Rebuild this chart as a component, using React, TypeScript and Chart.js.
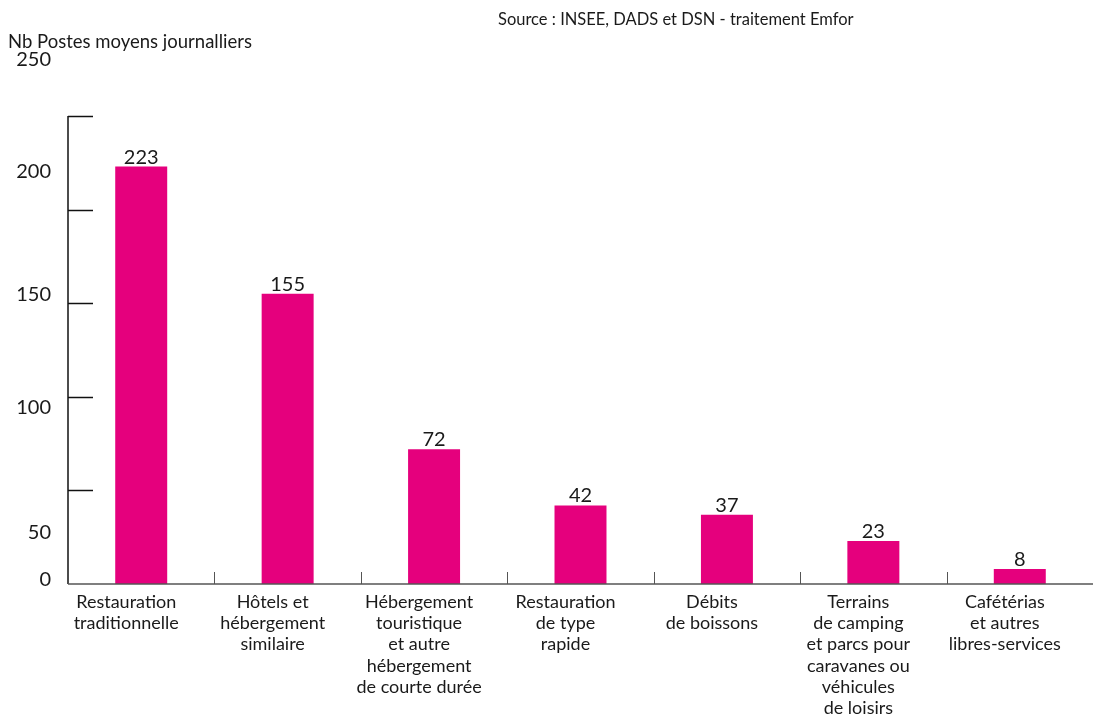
import React, { useEffect, useRef } from "react";
import { Chart, registerables } from "chart.js";
Chart.register(...registerables);

const categories: string[][] = [
  ["Restauration", "traditionnelle"],
  ["Hôtels et", "hébergement", "similaire"],
  ["Hébergement", "touristique", "et autre", "hébergement", "de courte durée"],
  ["Restauration", "de type", "rapide"],
  ["Débits", "de boissons"],
  ["Terrains", "de camping", "et parcs pour", "caravanes ou", "véhicules", "de loisirs"],
  ["Cafétérias", "et autres", "libres-services"],
];
const values = [223, 155, 72, 42, 37, 23, 8];
const yTickValues = [0, 50, 100, 150, 200, 250];
const yTickLabels = ["0", "50", "100", "150", "200", "250"];
// vertical shift of each y tick label, as placed in the reference
const yLabelShift = [-4, 42, 11, -9, -38, -56];

const yTitle = "Nb Postes moyens journalliers";
const sourceText = "Source : INSEE, DADS et DSN - traitement Emfor";

const FONT = "Lato, 'Noto Sans', sans-serif";
const BAR = "#E5007D";
const TXT = "#1a1a1a";

const drawPlugin = {
  id: "customDraw",
  afterDraw(chart: any) {
    const ctx = chart.ctx;
    const { left, right, top, bottom } = chart.chartArea;
    const y = chart.scales.y;
    const x = chart.scales.x;
    ctx.save();
    // y axis line
    ctx.strokeStyle = "#111";
    ctx.lineWidth = 1.5;
    ctx.beginPath();
    ctx.moveTo(left, top);
    ctx.lineTo(left, bottom);
    ctx.stroke();
    // y ticks (inward)
    yTickValues.forEach((v) => {
      if (v === 0) return;
      const py = Math.round(y.getPixelForValue(v)) + 0.5;
      ctx.beginPath();
      ctx.moveTo(left, py);
      ctx.lineTo(left + 25, py);
      ctx.stroke();
    });
    // x axis line
    ctx.strokeStyle = "#555";
    ctx.beginPath();
    ctx.moveTo(left, bottom);
    ctx.lineTo(right, bottom);
    ctx.stroke();
    // category boundary ticks
    ctx.lineWidth = 1;
    for (let i = 1; i < categories.length; i++) {
      const px = Math.round((x.getPixelForValue(i - 1) + x.getPixelForValue(i)) / 2) + 0.5;
      ctx.beginPath();
      ctx.moveTo(px, bottom);
      ctx.lineTo(px, bottom - 12);
      ctx.stroke();
    }
    // y tick labels
    ctx.fillStyle = TXT;
    ctx.font = `20px ${FONT}`;
    ctx.textAlign = "right";
    ctx.textBaseline = "middle";
    yTickValues.forEach((v, i) => {
      ctx.fillText(yTickLabels[i], 51, y.getPixelForValue(v) + yLabelShift[i]);
    });
    // value labels
    ctx.textAlign = "center";
    ctx.textBaseline = "alphabetic";
    const meta = chart.getDatasetMeta(0);
    meta.data.forEach((bar: any, i: number) => {
      ctx.fillText(String(values[i]), bar.x, bar.y - 3);
    });
    // titles
    ctx.textAlign = "left";
    ctx.font = `18.5px ${FONT}`;
    ctx.fillText(yTitle, 8, 48);
    ctx.font = `16.5px ${FONT}`;
    ctx.fillText(sourceText, 498, 25);
    ctx.restore();
  },
};

export default function App() {
  const ref = useRef<HTMLCanvasElement>(null);
  useEffect(() => {
    if (!ref.current) return;
    const chart = new Chart(ref.current, {
      type: "bar",
      data: {
        labels: categories,
        datasets: [
          {
            data: values,
            backgroundColor: BAR,
            categoryPercentage: 1,
            barPercentage: 0.355,
          },
        ],
      },
      options: {
        animation: false,
        responsive: true,
        maintainAspectRatio: false,
        layout: { padding: { top: 116, left: 0, right: 0, bottom: 0 } },
        plugins: { legend: { display: false }, tooltip: { enabled: false } },
        scales: {
          x: {
            grid: { display: false, drawTicks: false },
            border: { display: false },
            ticks: {
              color: TXT,
              font: { family: FONT, size: 18, lineHeight: 1.17 },
              padding: 8,
              maxRotation: 0,
              autoSkip: false,
              labelOffset: -15,
            },
            afterFit: (s: any) => {
              s.height = 131;
            },
          },
          y: {
            min: 0,
            max: 250,
            grid: { display: false },
            border: { display: false },
            ticks: { display: false, stepSize: 50 },
            afterFit: (s: any) => {
              s.width = 68;
            },
          },
        },
      },
      plugins: [drawPlugin],
    });
    return () => chart.destroy();
  }, []);
  return (
    <div style={{ position: "absolute", left: 0, top: 0, width: 1093, height: 715, background: "#fff" }}>
      <canvas ref={ref} />
    </div>
  );
}
